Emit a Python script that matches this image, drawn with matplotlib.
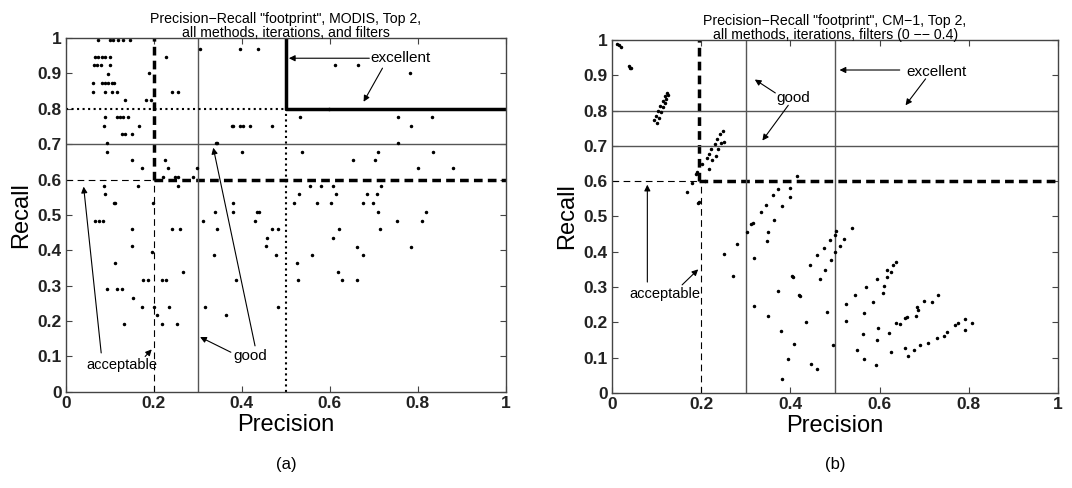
import matplotlib.pyplot as plt

plt.rcParams['font.family'] = ['Liberation Sans', 'DejaVu Sans']

# panel (a): MODIS
modis_precision = [
    0.073, 0.100, 0.107, 0.118, 0.130, 0.145, 0.305, 0.395, 0.436,
    0.066, 0.073, 0.082, 0.089, 0.100, 0.227,
    0.064, 0.071, 0.079, 0.100,
    0.096, 0.189,
    0.061, 0.082, 0.089, 0.095, 0.104, 0.109,
    0.061, 0.089, 0.104, 0.116, 0.241, 0.255,
    0.134, 0.182, 0.193,
    0.089, 0.116, 0.123, 0.130, 0.141,
    0.086, 0.166, 0.377, 0.380, 0.395, 0.402, 0.418, 0.468,
    0.127, 0.134, 0.150,
    0.093, 0.341, 0.343,
    0.093, 0.400,
    0.150, 0.225,
    0.172, 0.232, 0.297,
    0.220, 0.248, 0.255, 0.289,
    0.086, 0.164, 0.255,
    0.088,
    0.109, 0.198, 0.380,
    0.339, 0.380, 0.434, 0.440,
    0.066, 0.075, 0.084, 0.311, 0.430,
    0.611, 0.664, 0.782, 0.598,
    0.532, 0.755, 0.832, 0.786, 0.755,
    0.536, 0.709, 0.836, 0.652, 0.702, 0.800, 0.880,
    0.555, 0.580, 0.607, 0.716,
    0.530, 0.614, 0.684, 0.707,
    0.518, 0.570, 0.602, 0.675, 0.698,
    0.709, 0.820, 0.752, 0.811,
    0.621, 0.714, 0.607, 0.663, 0.784, 0.559, 0.675, 0.525, 0.618,
    0.527, 0.627, 0.661,
    0.111, 0.150, 0.241, 0.259, 0.343, 0.468, 0.482,
    0.457, 0.150, 0.454, 0.195, 0.337, 0.477, 0.111, 0.266,
    0.175, 0.186, 0.218, 0.227, 0.386,
    0.093, 0.116, 0.127, 0.152,
    0.172, 0.200, 0.234, 0.316, 0.482,
    0.206, 0.364, 0.132, 0.218, 0.252,
]
modis_recall = [
    0.994, 0.994, 0.994, 0.994, 0.994, 0.994, 0.970, 0.970, 0.970,
    0.947, 0.947, 0.947, 0.947, 0.947, 0.947,
    0.924, 0.924, 0.924, 0.924,
    0.898, 0.900,
    0.874, 0.874, 0.874, 0.874, 0.874, 0.874,
    0.848, 0.848, 0.848, 0.848, 0.848, 0.848,
    0.825, 0.825, 0.825,
    0.777, 0.777, 0.777, 0.777, 0.777,
    0.751, 0.751, 0.751, 0.751, 0.751, 0.751, 0.751, 0.751,
    0.729, 0.729, 0.729,
    0.704, 0.704, 0.704,
    0.678, 0.678,
    0.655, 0.655,
    0.632, 0.632, 0.632,
    0.607, 0.607, 0.607, 0.607,
    0.582, 0.582, 0.582,
    0.559,
    0.534, 0.534, 0.534,
    0.509, 0.509, 0.509, 0.509,
    0.483, 0.483, 0.483, 0.483, 0.483,
    0.924, 0.924, 0.900, 0.800,
    0.777, 0.777, 0.777, 0.751, 0.704,
    0.678, 0.678, 0.678, 0.655, 0.655, 0.632, 0.632,
    0.582, 0.582, 0.582, 0.582,
    0.559, 0.559, 0.559, 0.559,
    0.534, 0.534, 0.534, 0.534, 0.534,
    0.509, 0.509, 0.483, 0.483,
    0.460, 0.460, 0.435, 0.410, 0.410, 0.387, 0.387, 0.364, 0.340,
    0.315, 0.315, 0.315,
    0.533, 0.460, 0.460, 0.460, 0.460, 0.460, 0.460,
    0.435, 0.412, 0.412, 0.396, 0.387, 0.387, 0.363, 0.340,
    0.315, 0.315, 0.315, 0.315, 0.315,
    0.290, 0.290, 0.290, 0.265,
    0.241, 0.241, 0.241, 0.241, 0.241,
    0.217, 0.217, 0.192, 0.192, 0.192,
]

# panel (b): CM-1
cm1_precision = [
    0.010, 0.015, 0.020, 0.038, 0.040, 0.043,
    0.094, 0.099, 0.103, 0.108, 0.113, 0.118, 0.122,
    0.101, 0.105, 0.110, 0.114, 0.118, 0.121, 0.125,
    0.213, 0.217, 0.222, 0.230, 0.236, 0.242, 0.248,
    0.218, 0.225, 0.232, 0.238, 0.244, 0.250,
    0.201, 0.190, 0.187, 0.180, 0.168, 0.194, 0.209, 0.193,
    0.315, 0.334, 0.344, 0.360, 0.371, 0.400, 0.398, 0.382, 0.362, 0.415,
    0.250, 0.279, 0.272, 0.303, 0.312, 0.350, 0.348, 0.319, 0.371, 0.404,
    0.420, 0.319, 0.350, 0.378, 0.408, 0.394, 0.382,
    0.537, 0.503, 0.499, 0.519, 0.488, 0.512, 0.475, 0.459, 0.499, 0.490,
    0.443, 0.477, 0.466, 0.405, 0.422, 0.481, 0.434, 0.496, 0.445, 0.459,
    0.636, 0.630, 0.617, 0.626, 0.616, 0.593, 0.610, 0.570, 0.607, 0.544,
    0.585, 0.524, 0.565, 0.524, 0.596, 0.562, 0.595, 0.550, 0.565, 0.591,
    0.730, 0.717, 0.699, 0.683, 0.685, 0.681, 0.661, 0.656, 0.645, 0.636,
    0.622, 0.625, 0.656, 0.663, 0.676, 0.690, 0.708, 0.728, 0.744, 0.751,
    0.769, 0.775, 0.791, 0.808, 0.791,
]
cm1_recall = [
    0.990, 0.985, 0.980, 0.926, 0.922, 0.920,
    0.772, 0.785, 0.800, 0.812, 0.826, 0.840, 0.850,
    0.765, 0.778, 0.795, 0.810, 0.822, 0.832, 0.845,
    0.665, 0.678, 0.690, 0.705, 0.720, 0.735, 0.742,
    0.635, 0.660, 0.672, 0.690, 0.707, 0.712,
    0.650, 0.625, 0.620, 0.594, 0.569, 0.541, 0.600, 0.539,
    0.480, 0.512, 0.532, 0.560, 0.577, 0.580, 0.556, 0.530, 0.490, 0.615,
    0.393, 0.421, 0.330, 0.457, 0.478, 0.455, 0.431, 0.382, 0.290, 0.330,
    0.276, 0.245, 0.219, 0.174, 0.139, 0.097, 0.039,
    0.468, 0.460, 0.446, 0.436, 0.432, 0.417, 0.410, 0.390, 0.399, 0.376,
    0.362, 0.348, 0.322, 0.328, 0.274, 0.230, 0.200, 0.135, 0.082, 0.067,
    0.372, 0.362, 0.348, 0.342, 0.329, 0.322, 0.302, 0.300, 0.284, 0.278,
    0.258, 0.253, 0.227, 0.203, 0.184, 0.166, 0.150, 0.122, 0.097, 0.080,
    0.278, 0.258, 0.261, 0.244, 0.234, 0.217, 0.214, 0.212, 0.195, 0.198,
    0.169, 0.116, 0.128, 0.105, 0.122, 0.136, 0.142, 0.156, 0.161, 0.173,
    0.193, 0.198, 0.210, 0.198, 0.178,
]

xticks = [0, 0.2, 0.4, 0.6, 0.8, 1]
xticklabels = ['0', '0.2', '0.4', '0.6', '0.8', '1']
yticks = [0, 0.1, 0.2, 0.3, 0.4, 0.5, 0.6, 0.7, 0.8, 0.9, 1]
yticklabels = ['0', '0.1', '0.2', '0.3', '0.4', '0.5', '0.6', '0.7', '0.8', '0.9', '1']

title_a = 'Precision\u2212Recall "footprint", MODIS, Top 2,\nall methods, iterations, and filters'
title_b = 'Precision\u2212Recall "footprint", CM\u22121, Top 2,\nall methods, iterations, filters (0 \u2212\u2212 0.4)'

GRAY = '#555555'


def style_axes(ax, title):
    ax.set_xlim(0, 1)
    ax.set_ylim(0, 1)
    ax.set_xticks(xticks)
    ax.set_xticklabels(xticklabels, fontweight='bold')
    ax.set_yticks(yticks)
    ax.set_yticklabels(yticklabels, fontweight='bold')
    ax.tick_params(direction='in', top=True, right=True, length=4, labelsize=12.5, pad=3,
                   color='#444444', labelcolor='#222222')
    for s in ax.spines.values():
        s.set_linewidth(1.0)
        s.set_color('#444444')
    ax.set_xlabel('Precision', fontsize=17, labelpad=2)
    ax.set_ylabel('Recall', fontsize=17, labelpad=4)
    ax.set_title(title, fontsize=10.2, pad=1, linespacing=1.0)


def arrow(ax, text_xy, head_xy):
    ax.annotate('', xy=head_xy, xytext=text_xy,
                arrowprops=dict(arrowstyle='-|>', color='black', lw=0.8,
                                mutation_scale=9, shrinkA=0, shrinkB=0))


fig = plt.figure(figsize=(10.72, 4.88), dpi=100)

# ---- (a) ----
ax1 = fig.add_axes([0.0616, 0.197, 0.410, 0.725])
ax1.plot([0, 0.2], [0.6, 0.6], '--', color='black', lw=0.8, dashes=(6, 4))
ax1.plot([0.2, 0.2], [0, 0.6], '--', color='black', lw=0.8, dashes=(6, 4))
ax1.plot([0.2, 0.2], [0.6, 1], '--', color='black', lw=2.5, dashes=(2.5, 1.5))
ax1.plot([0.2, 1], [0.6, 0.6], '--', color='black', lw=2.5, dashes=(2.5, 1.5))
ax1.axvline(0.3, color=GRAY, lw=1.0)
ax1.axhline(0.7, color=GRAY, lw=1.0)
ax1.plot([0, 0.5], [0.8, 0.8], ':', color='black', lw=1.5)
ax1.plot([0.5, 0.5], [0, 0.8], ':', color='black', lw=1.5)
ax1.plot([0.5, 0.5, 1], [1, 0.8, 0.8], '-', color='black', lw=2.5)
ax1.plot(modis_precision, modis_recall, '.', color='black', ms=3)
ax1.text(0.76, 0.943, 'excellent', fontsize=11, ha='center', va='center')
arrow(ax1, (0.69, 0.943), (0.507, 0.943))
arrow(ax1, (0.72, 0.915), (0.677, 0.82))
ax1.text(0.418, 0.10, 'good', fontsize=11, ha='center', va='center')
arrow(ax1, (0.375, 0.112), (0.305, 0.155))
arrow(ax1, (0.43, 0.13), (0.335, 0.69))
ax1.text(0.126, 0.077, 'acceptable', fontsize=10.5, ha='center', va='center')
arrow(ax1, (0.08, 0.11), (0.04, 0.58))
arrow(ax1, (0.18, 0.10), (0.195, 0.12))
style_axes(ax1, title_a)

# ---- (b) ----
ax2 = fig.add_axes([0.571, 0.195, 0.416, 0.723])
ax2.plot([0, 0.2], [0.6, 0.6], '--', color='black', lw=0.8, dashes=(6, 4))
ax2.plot([0.2, 0.2], [0, 0.6], '--', color='black', lw=0.8, dashes=(6, 4))
ax2.plot([0.195, 0.195], [0.6, 1], '--', color='black', lw=2.5, dashes=(2.5, 1.5))
ax2.plot([0.195, 1], [0.6, 0.6], '--', color='black', lw=2.5, dashes=(2.5, 1.5))
ax2.axvline(0.3, color=GRAY, lw=1.0)
ax2.axvline(0.5, color=GRAY, lw=1.0)
ax2.axhline(0.7, color=GRAY, lw=1.0)
ax2.axhline(0.8, color=GRAY, lw=1.0)
ax2.plot(cm1_precision, cm1_recall, '.', color='black', ms=3)
ax2.text(0.728, 0.909, 'excellent', fontsize=11, ha='center', va='center')
arrow(ax2, (0.645, 0.915), (0.51, 0.915))
arrow(ax2, (0.703, 0.89), (0.658, 0.815))
ax2.text(0.406, 0.835, 'good', fontsize=11, ha='center', va='center')
arrow(ax2, (0.366, 0.85), (0.32, 0.888))
arrow(ax2, (0.395, 0.815), (0.337, 0.715))
ax2.text(0.119, 0.28, 'acceptable', fontsize=10.5, ha='center', va='center')
arrow(ax2, (0.079, 0.314), (0.079, 0.59))
arrow(ax2, (0.157, 0.306), (0.193, 0.35))
style_axes(ax2, title_b)

fig.text(286 / 1072, 1 - 465 / 488, '(a)', fontsize=12, ha='center', va='center')
fig.text(835 / 1072, 1 - 465 / 488, '(b)', fontsize=12, ha='center', va='center')

fig.savefig('out.png', dpi=100)
